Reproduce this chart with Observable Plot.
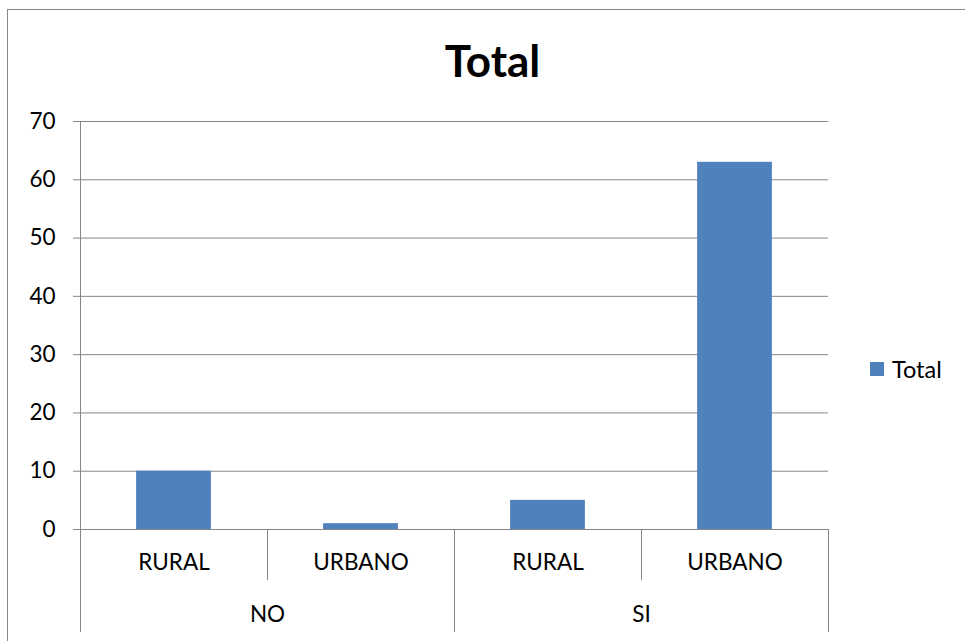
<!DOCTYPE html>
<html>
<head>
<meta charset="utf-8">
<script src="https://cdn.jsdelivr.net/npm/d3@7"></script>
<script src="https://cdn.jsdelivr.net/npm/@observablehq/plot@0.6"></script>
<style>
  html, body { margin: 0; padding: 0; background: #fff; }
  body { width: 965px; height: 641px; overflow: hidden; position: relative; font-family: Lato, "Open Sans", sans-serif; }
  #frame { position: absolute; left: 7px; top: 9px; width: 1000px; height: 700px; border: 1px solid #868686; box-sizing: border-box; }
  #title { position: absolute; left: 0; width: 985px; top: 34px; text-align: center; font-weight: bold; font-size: 44px; line-height: 52px; color: #000; }
  #chart { position: absolute; left: 0; top: 0; }
  #legend { position: absolute; left: 870px; top: 355px; font-size: 23.5px; line-height: 28px; display: flex; align-items: center; color: #000; }
  #legend .sw { width: 14px; height: 14px; background: #4F81BD; margin-right: 8px; }
  svg [aria-label="y-axis tick"], svg [aria-label="x-axis tick"] { stroke: #868686; }
</style>
</head>
<body>
<div id="frame"></div>
<div id="chart"></div>
<div id="title">Total</div>
<div id="legend"><div class="sw"></div><span>Total</span></div>
<script>
const groups = ["NO", "NO", "SI", "SI"];
const categories = ["RURAL", "URBANO", "RURAL", "URBANO"];
const values = [10, 1, 5, 63];
const yTicks = [0, 10, 20, 30, 40, 50, 60, 70];
const barColor = "#4F81BD";

const data = values.map((v, i) => ({i, group: groups[i], category: categories[i], value: v}));
const idx = data.map(d => d.i);
// category boundaries
const innerBounds = idx.slice(0, -1).filter(i => groups[i] === groups[i + 1]).map(i => i + 0.5);
const groupNames = [...new Set(groups)];
const groupBounds = [-0.5, ...idx.slice(0, -1).filter(i => groups[i] !== groups[i + 1]).map(i => i + 0.5), idx.length - 0.5];
const groupCenters = groupNames.map(g => d3.mean(idx.filter(i => groups[i] === g)));

const chart = Plot.plot({
  width: 965,
  height: 641,
  marginLeft: 80,
  marginRight: 137,
  marginTop: 121,
  marginBottom: 112,
  style: {fontFamily: "Lato, 'Open Sans', sans-serif", fontSize: "22.5px", color: "#000", background: "transparent"},
  x: {domain: [-0.5, idx.length - 0.5], axis: null},
  y: {domain: [0, 70], axis: null},
  marks: [
    Plot.ruleY(yTicks, {stroke: "#868686", strokeWidth: 1}),
    Plot.ruleX([-0.5], {stroke: "#868686"}),
    Plot.rectY(data, {x1: d => d.i - 0.2, x2: d => d.i + 0.2, y: "value", fill: barColor}),
    Plot.axisY({ticks: yTicks, tickSize: 7, tickPadding: 18, fontSize: 22.5, label: null}),
    Plot.axisX({ticks: innerBounds, tickSize: 51, tickFormat: () => "", label: null}),
    Plot.axisX({ticks: groupBounds, tickSize: 103, tickFormat: () => "", label: null}),
    Plot.axisX({ticks: idx, tickSize: 0, tickPadding: 25, tickFormat: i => categories[i], fontSize: 22.5, label: null}),
    Plot.axisX({ticks: groupCenters, tickSize: 0, tickPadding: 77, tickFormat: (x, k) => groupNames[k], fontSize: 22.5, label: null})
  ]
});
document.getElementById("chart").appendChild(chart);
</script>
</body>
</html>
